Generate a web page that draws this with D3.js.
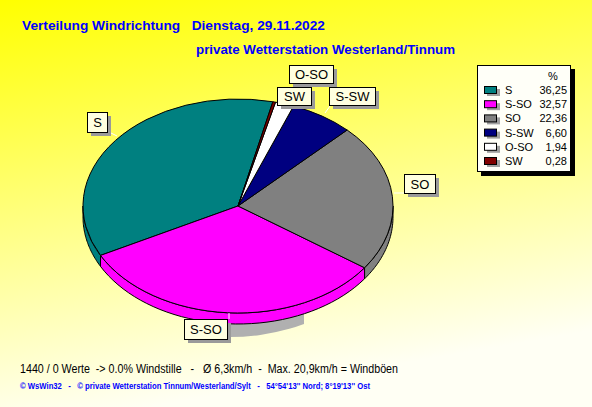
<!DOCTYPE html>
<html><head><meta charset="utf-8">
<script src="https://cdn.jsdelivr.net/npm/d3@7"></script>
<style>html,body{margin:0;padding:0;overflow:hidden;background:#fff}</style>
</head><body>
<script>
const categories = ["S","S-SO","SO","S-SW","O-SO","SW"];
const values = [36.25,32.57,22.36,6.60,1.94,0.28];
const valueLabels = ["36,25","32,57","22,36","6,60","1,94","0,28"];
const colors = ["#008080","#ff00ff","#808080","#000080","#ffffff","#800000"];
const title1 = "Verteilung Windrichtung   Dienstag, 29.11.2022";
const title2 = "private Wetterstation Westerland/Tinnum";
const footer1 = "1440 / 0 Werte  -> 0.0% Windstille   -   Ø 6,3km/h  -  Max. 20,9km/h = Windböen";
const footer2 = "© WsWin32   -   © private Wetterstation Tinnum/Westerland/Sylt   -   54°54'13'' Nord; 8°19'13'' Ost";

const W = 592, H = 407;
const svg = d3.select("body").append("svg").attr("width", W).attr("height", H)
  .style("font-family", "'Liberation Sans', Arial, sans-serif");

const defs = svg.append("defs");
const g = defs.append("linearGradient").attr("id","bg").attr("x1",0).attr("y1",0).attr("x2",0.25).attr("y2",1);
g.append("stop").attr("offset","0%").attr("stop-color","#ffff00");
g.append("stop").attr("offset","45%").attr("stop-color","#ffff70");
g.append("stop").attr("offset","100%").attr("stop-color","#fffff4");
svg.append("rect").attr("width",W).attr("height",H).attr("fill","url(#bg)");

// titles
svg.append("text").attr("x",22).attr("y",30).attr("fill","#0000ff").attr("font-weight","bold")
  .attr("font-size",13).style("white-space","pre").attr("textLength",303).attr("lengthAdjust","spacingAndGlyphs").text(title1);
svg.append("text").attr("x",196).attr("y",54).attr("fill","#0000ff").attr("font-weight","bold")
  .attr("font-size",13).attr("textLength",259).attr("lengthAdjust","spacingAndGlyphs").text(title2);

// pie geometry
const cx = 238, cy = 206, rx = 155, ry = 107, depth = 11;
const deg = Math.PI/180;
const pie = d3.pie().sort(null).value(d=>d).startAngle(13*deg).endAngle(13*deg - 2*Math.PI);
const arcs = pie(values);
const px = a => cx + rx*Math.sin(a);
const py = (a, off=0) => cy + off - ry*Math.cos(a);

// shadow
defs.append("clipPath").attr("id","shclip").append("rect").attr("x",195).attr("y",0).attr("width",109).attr("height",H);
svg.append("ellipse").attr("cx",cx-8).attr("cy",cy+24).attr("rx",rx).attr("ry",ry)
  .attr("fill","#b0b0b0").attr("clip-path","url(#shclip)");

// sides (front half: angles between 90° and 270°)
function norm(a){ let t = a % (2*Math.PI); if (t<0) t += 2*Math.PI; return t; }
const sideG = svg.append("g");
arcs.forEach((d,i)=>{
  let a0 = Math.min(d.startAngle,d.endAngle), a1 = Math.max(d.startAngle,d.endAngle);
  const shift = norm(a0) - a0; a0 += shift; a1 += shift;
  const ranges = [[Math.PI/2, 3*Math.PI/2],[Math.PI/2+2*Math.PI, 3*Math.PI/2+2*Math.PI]];
  ranges.forEach(r=>{
    const s = Math.max(a0, r[0]), e = Math.min(a1, r[1]);
    if (e > s) {
      const p = d3.path();
      p.moveTo(px(s), py(s));
      const n = 40;
      for (let k=1;k<=n;k++){ const a = s+(e-s)*k/n; p.lineTo(px(a), py(a)); }
      for (let k=n;k>=0;k--){ const a = s+(e-s)*k/n; p.lineTo(px(a), py(a,depth)); }
      p.closePath();
      sideG.append("path").attr("d",p.toString()).attr("fill",colors[i]).attr("stroke","#000").attr("stroke-width",1);
    }
  });
});

// top slices
const topG = svg.append("g");
arcs.forEach((d,i)=>{
  const s = d.startAngle, e = d.endAngle;
  const large = Math.abs(e-s) > Math.PI ? 1 : 0;
  const sweep = e > s ? 1 : 0;
  const path = `M${cx},${cy}L${px(s)},${py(s)}A${rx},${ry} 0 ${large} ${sweep} ${px(e)},${py(e)}Z`;
  topG.append("path").attr("d",path).attr("fill",colors[i]).attr("stroke","#000").attr("stroke-width",1);
});

// labels with leader lines
const labelBoxes = [
  {x:87, y:112, w:20, h:20, lx1:111, ly1:133, lx2:117, ly2:136},
  {x:184, y:319, w:43, h:20, lx1:229, ly1:313, lx2:229, ly2:319},
  {x:404, y:174, w:31, h:19, lx1:394, ly1:193, lx2:404, ly2:193},
  {x:329, y:87, w:46, h:18, lx1:330, ly1:106, lx2:325, ly2:113},
  {x:289, y:65, w:44, h:18, lx1:0, ly1:0, lx2:0, ly2:0},
  {x:277, y:87, w:34, h:18, lx1:0, ly1:0, lx2:0, ly2:0}
];
const lab = svg.append("g");
labelBoxes.forEach((b,i)=>{
  if (b.lx1) lab.append("line").attr("x1",b.lx1).attr("y1",b.ly1).attr("x2",b.lx2).attr("y2",b.ly2).attr("stroke","#fff").attr("stroke-width",1);
  lab.append("rect").attr("x",b.x+4).attr("y",b.y+4).attr("width",b.w).attr("height",b.h).attr("fill","#9a9a9a");
  lab.append("rect").attr("x",b.x+0.5).attr("y",b.y+0.5).attr("width",b.w).attr("height",b.h).attr("fill","#ffffe0").attr("stroke","#000");
  lab.append("text").attr("x",b.x+b.w/2+0.5).attr("y",b.y+b.h/2+5).attr("text-anchor","middle")
    .attr("font-size",13).attr("fill","#000").text(categories[i]);
});

// legend
const leg = svg.append("g");
leg.append("rect").attr("x",481).attr("y",69).attr("width",94).attr("height",107).attr("fill","#000");
leg.append("rect").attr("x",477.5).attr("y",65.5).attr("width",93).attr("height",106).attr("fill","#fffff8").attr("stroke","#000");
leg.append("text").attr("x",553).attr("y",80).attr("text-anchor","middle").attr("font-size",11).text("%");
const rowY = d3.scaleLinear().domain([0,5]).range([90,161]);
categories.forEach((c,i)=>{
  const y = rowY(i);
  leg.append("rect").attr("x",487).attr("y",y-1).attr("width",13).attr("height",7).attr("fill","#a0a0a0");
  leg.append("rect").attr("x",484.5).attr("y",y-3.5).attr("width",12).attr("height",7).attr("fill",colors[i]).attr("stroke","#000");
  leg.append("text").attr("x",505).attr("y",y+4).attr("font-size",11).text(c);
  leg.append("text").attr("x",567).attr("y",y+4).attr("font-size",11).attr("text-anchor","end").text(valueLabels[i]);
});

// footers
svg.append("text").attr("x",20).attr("y",373).attr("font-size",12).attr("fill","#000")
  .style("white-space","pre").attr("textLength",378).attr("lengthAdjust","spacingAndGlyphs").text(footer1);
svg.append("text").attr("x",20).attr("y",389).attr("font-size",9).attr("font-weight","bold").attr("fill","#0000ff")
  .style("white-space","pre").attr("textLength",350).attr("lengthAdjust","spacingAndGlyphs").text(footer2);
</script>
</body></html>
